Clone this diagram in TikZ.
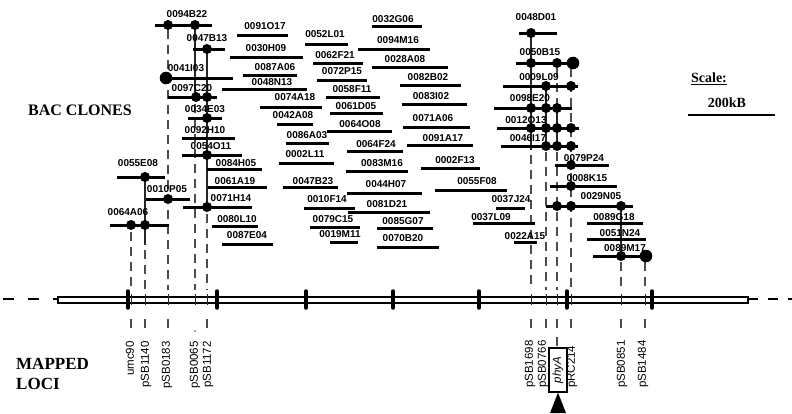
\documentclass[tikz,border=0pt]{standalone}
\usepackage{fontspec}
\setmainfont{Liberation Serif}
\newfontfamily\arial{Liberation Sans}
\begin{document}
\begin{tikzpicture}[x=1pt,y=-1pt,
  lbl/.style={font=\arial\bfseries\fontsize{10}{11}\selectfont, inner sep=0pt},
  cl/.style={line width=3pt},
  locdash/.style={line width=1.2pt, black!70, dash pattern=on 9pt off 6pt},
  locsolid/.style={line width=1.2pt, black!85},
  loclbl/.style={font=\arial\fontsize{11.5}{13}\selectfont, rotate=90, inner sep=0pt},
  head/.style={font=\bfseries\fontsize{16}{18}\selectfont, inner sep=0pt, anchor=west},
  tickmark/.style={line width=3.5pt, line cap=round},
  ext/.style={line width=2.5pt}]
\useasboundingbox (0,0) rectangle (792,413);

% chromosome
\draw[ext, dash pattern=on 11pt off 14pt] (3,299) -- (58,299);
\draw[ext, dash pattern=on 10pt off 10pt] (748,299) -- (792,299);
\draw[line width=2pt, fill=white] (58,296.5) rectangle (748,302.5);
\foreach \x in {128,217,306,393,479,567,652} \draw[tickmark] (\x,291) -- (\x,308);

% loci vertical lines
\draw[locsolid] (145,177) -- (145,245);
\draw[locsolid] (195,25) -- (195,97);
\draw[locsolid] (207,49) -- (207,207);
\draw[locsolid] (531,33) -- (531,150);
\draw[locsolid] (546,86) -- (546,146);
\draw[locsolid] (557,108) -- (557,146);
\draw[locsolid] (621,206) -- (621,256);
\draw[locdash] (131,232) -- (131,290);
\draw[locdash] (145,250) -- (145,290);
\draw[locdash] (168,30) -- (168,290);
\draw[locdash] (195,104) -- (195,290);
\draw[locdash] (207,214) -- (207,290);
\draw[locdash] (531,155) -- (531,290);
\draw[locdash] (546,152) -- (546,290);
\draw[locdash] (557,68) -- (557,104);
\draw[locdash] (557,152) -- (557,290);
\draw[locdash] (571,68) -- (571,290);
\draw[locdash] (621,262) -- (621,290);
\draw[locdash] (645,262) -- (645,290);
\foreach \x in {131,145,168,195,207,531,546,557,571,621,645}
  \draw[locsolid, line width=0.8pt] (\x,294) -- (\x,305);
\foreach \x in {131,145,168,207,531,546,557,571,621,645}
  \draw[locdash] (\x,319) -- (\x,332);
\fill[black!70] (195,331) circle (0.8);
\draw[locdash] (557,337) -- (557,348);

% clones
\foreach \n/\lx/\ly/\a/\b/\y in {
 0094B22/187/14/155/212/25, 0047B13/207/38/193/225/49, 0041I03/186/68/161/233/78,
 0097C20/192/88/168/217/97, 0034E03/205/109/188/222/118, 0092H10/205/130/182/235/138,
 0054O11/211/146/182/242/155, 0084H05/236/163/207/262/169, 0055E08/138/163/117/165/177,
 0061A19/235/181/208/267/187, 0010P05/167/189/146/190/199, 0071H14/231/198/183/252/207,
 0064A06/128/212/110/169/225, 0080L10/237/219/212/258/226, 0087E04/247/235/222/273/244,
 0091O17/265/26/237/288/35, 0052L01/325/34/305/348/44, 0032G06/393/19/372/422/26,
 0030H09/266/48/230/303/57, 0094M16/398/40/358/430/49, 0062F21/335/55/313/363/63,
 0087A06/275/67/243/297/75, 0028A08/405/59/372/448/67, 0072P15/342/71/317/367/80,
 0048N13/272/82/222/307/89, 0082B02/428/77/400/461/85, 0058F11/352/89/326/380/97,
 0074A18/295/97/260/322/107, 0083I02/431/96/402/467/104, 0061D05/356/106/330/383/113,
 0042A08/293/115/277/313/124, 0064O08/360/124/327/392/131, 0071A06/433/118/403/470/127,
 0086A03/307/135/286/329/143, 0091A17/443/138/407/473/145, 0064F24/376/144/347/403/151,
 0002L11/305/154/279/334/163, 0083M16/382/163/346/408/171, 0002F13/455/160/421/480/168,
 0047B23/313/181/283/338/187, 0044H07/386/184/347/422/193, 0055F08/477/181/435/507/190,
 0010F14/327/199/304/355/208, 0081D21/387/204/348/430/212, 0079C15/333/219/310/360/227,
 0085G07/403/221/377/433/228, 0019M11/340/234/330/358/242, 0070B20/403/238/377/439/247,
 0037J24/511/199/496/525/208, 0037L09/491/217/473/535/223, 0022A15/525/236/514/537/242,
 0048D01/536/17/519/557/33, 0050B15/540/52/516/575/63, 0009L09/539/77/503/578/86,
 0098E20/530/98/494/572/108, 0012O13/526/120/497/579/128, 0046I17/528/138/501/578/146,
 0079P24/584/158/555/609/165, 0008K15/587/178/550/617/186, 0029N05/601/196/546/633/206,
 0089G18/614/217/587/643/223, 0051N24/620/233/587/646/239, 0089M17/625/248/593/647/256}
{
  \node[lbl] (c\n) at (\lx,\ly) {\n};
  \draw[cl] (\a,\y) -- (\b,\y);
}

% dots
\foreach \x/\y in {168/25,195/25,207/49,196/97,207/97,207/118,207/155,145/177,168/199,207/207,
  131/225,145/225,531/33,531/63,557/63,546/86,571/86,531/108,546/108,557/108,
  531/128,546/128,557/128,571/128,546/146,557/146,571/146,571/165,571/186,
  557/206,571/206,621/206,621/256}
  \fill (\x,\y) circle (5);
\foreach \x/\y in {166/78,573/63,646/256} \fill (\x,\y) circle (6.3);

% loci labels
\foreach \n/\x in {umc90/130,pSB1140/146,pSB0183/167,pSB0065/195,pSB1172/208}
  \node[loclbl, anchor=east] (l\n) at (\x,341) {\n};
\foreach \n/\x in {pSB1698/530,pSB0766/543,pRC214/572,pSB0851/622,pSB1484/643}
  \node[loclbl, anchor=west] (l\n) at (\x,388) {\n};
\node[draw, line width=1.3pt, rotate=90, minimum width=44pt, minimum height=18pt,
  inner sep=0pt, font=\arial\itshape\fontsize{11.5}{13}\selectfont] (phy) at (558,370) {phyA};
\fill (phy.west) -- (550,413) -- (566,413) -- cycle;

% headings
\node[head] (bac) at (28,110) {BAC CLONES};
\node[head, font=\bfseries\fontsize{17}{19}\selectfont] (mapped) at (16,364) {MAPPED};
\node[head, font=\bfseries\fontsize{17}{19}\selectfont] (loci) at (16,384) {LOCI};
\node[inner sep=0pt, font=\bfseries\fontsize{14}{16}\selectfont] (scale) at (709,79) {\underline{Scale:}};
\node[inner sep=0pt, font=\bfseries\fontsize{14}{16}\selectfont] (kb) at (727,103) {200kB};
\coordinate (s1) at (688,115);
\coordinate (s2) at (775,115);
\draw[line width=2.5pt] (s1) -- (s2);
\end{tikzpicture}
\end{document}
